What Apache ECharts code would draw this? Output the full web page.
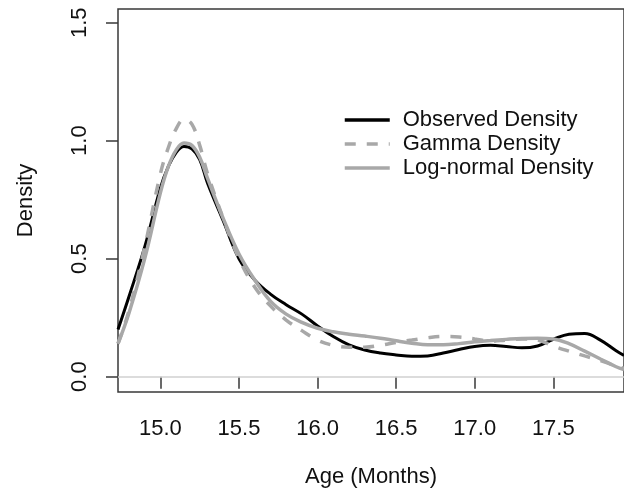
<!DOCTYPE html>
<html><head><meta charset="utf-8">
<script src="https://cdn.jsdelivr.net/npm/echarts@6/dist/echarts.min.js"></script>
<style>html,body{margin:0;padding:0;background:#fff;}#c{width:624px;height:493px;}</style>
</head><body><div id="c"></div>
<script>
const ages = [14.73, 14.8, 14.9, 15.0, 15.05, 15.1, 15.15, 15.2, 15.25, 15.3, 15.4, 15.5, 15.6, 15.7, 15.8, 15.9, 16.0, 16.1, 16.2, 16.3, 16.4, 16.5, 16.6, 16.7, 16.8, 16.9, 17.0, 17.1, 17.2, 17.3, 17.4, 17.5, 17.6, 17.7, 17.8, 17.9, 17.95];
const observed = [0.20, 0.34, 0.55, 0.80, 0.89, 0.95, 0.975, 0.965, 0.92, 0.82, 0.66, 0.50, 0.41, 0.35, 0.305, 0.265, 0.215, 0.17, 0.135, 0.113, 0.10, 0.092, 0.086, 0.088, 0.10, 0.115, 0.128, 0.133, 0.128, 0.122, 0.13, 0.158, 0.18, 0.183, 0.155, 0.11, 0.09];
const gammaFit = [0.14, 0.28, 0.55, 0.86, 0.97, 1.05, 1.09, 1.07, 0.98, 0.86, 0.67, 0.50, 0.38, 0.30, 0.24, 0.195, 0.155, 0.133, 0.125, 0.125, 0.133, 0.145, 0.155, 0.165, 0.17, 0.168, 0.16, 0.15, 0.155, 0.16, 0.155, 0.13, 0.108, 0.088, 0.068, 0.045, 0.035];
const lognormalFit = [0.14, 0.27, 0.50, 0.78, 0.89, 0.96, 0.99, 0.98, 0.93, 0.84, 0.67, 0.52, 0.41, 0.32, 0.265, 0.23, 0.205, 0.19, 0.18, 0.172, 0.163, 0.152, 0.142, 0.135, 0.135, 0.14, 0.148, 0.153, 0.158, 0.162, 0.163, 0.16, 0.14, 0.108, 0.075, 0.042, 0.03];
const xTicks = [15.0, 15.5, 16.0, 16.5, 17.0, 17.5];
const yTicks = [0.0, 0.5, 1.0, 1.5];
const seriesNames = ['Observed Density', 'Gamma Density', 'Log-normal Density'];

const pair = arr => ages.map((a, i) => [a, arr[i]]);
const FONT = 'Liberation Sans, Arial, sans-serif';
const chart = echarts.init(document.getElementById('c'), null, {renderer: 'canvas'});
chart.setOption({
  animation: false,
  backgroundColor: '#fff',
  grid: {left: 118, top: 9, right: -5, bottom: 101, show: true, borderColor: '#383838', borderWidth: 1.5, backgroundColor: 'transparent'},
  xAxis: {
    type: 'value', min: 14.73, max: 17.95,
    axisLine: {show: false},
    splitLine: {show: false},
    axisTick: {show: true, length: 12, inside: false, customValues: xTicks, lineStyle: {color: '#383838', width: 1.5}},
    axisLabel: {customValues: xTicks, margin: 26, fontFamily: FONT, fontSize: 22, color: '#111', formatter: v => v.toFixed(1)},
    name: 'Age (Months)', nameLocation: 'middle', nameGap: 74,
    nameTextStyle: {fontFamily: FONT, fontSize: 22, color: '#111'}
  },
  yAxis: {
    type: 'value', min: -0.065, max: 1.558,
    axisLine: {show: false},
    splitLine: {show: false},
    axisTick: {show: true, length: 12, inside: false, customValues: yTicks, lineStyle: {color: '#383838', width: 1.5}},
    axisLabel: {customValues: yTicks, rotate: 90, margin: 27, fontFamily: FONT, fontSize: 22, color: '#111', formatter: v => v.toFixed(1)},
    name: 'Density', nameLocation: 'middle', nameGap: 81,
    nameTextStyle: {fontFamily: FONT, fontSize: 22, color: '#111'}
  },
  legend: {
    show: true, orient: 'vertical', left: 338, top: 104,
    itemWidth: 45, itemHeight: 14, itemGap: 2,
    itemStyle: {opacity: 0},
    lineStyle: {width: 3.5},
    data: seriesNames,
    textStyle: {fontFamily: FONT, fontSize: 22, color: '#111', lineHeight: 22, padding: [0, 0, 0, 8]}
  },
  series: [
    {name: seriesNames[0], type: 'line', data: pair(observed), smooth: 0.4, symbol: 'none',
     lineStyle: {color: '#000', width: 3}, itemStyle: {color: '#000'}, z: 2,
     markLine: {silent: true, symbol: 'none', label: {show: false}, lineStyle: {color: '#d0d0d0', type: 'solid', width: 1.5}, data: [{yAxis: 0}]}},
    {name: seriesNames[1], type: 'line', data: pair(gammaFit), smooth: 0.4, symbol: 'none',
     lineStyle: {color: '#a8a8a8', width: 3.5, type: [11, 11]}, itemStyle: {color: '#a8a8a8'}, z: 3},
    {name: seriesNames[2], type: 'line', data: pair(lognormalFit), smooth: 0.4, symbol: 'none',
     lineStyle: {color: '#a8a8a8', width: 3.5}, itemStyle: {color: '#a8a8a8'}, z: 4}
  ]
});
</script></body></html>
